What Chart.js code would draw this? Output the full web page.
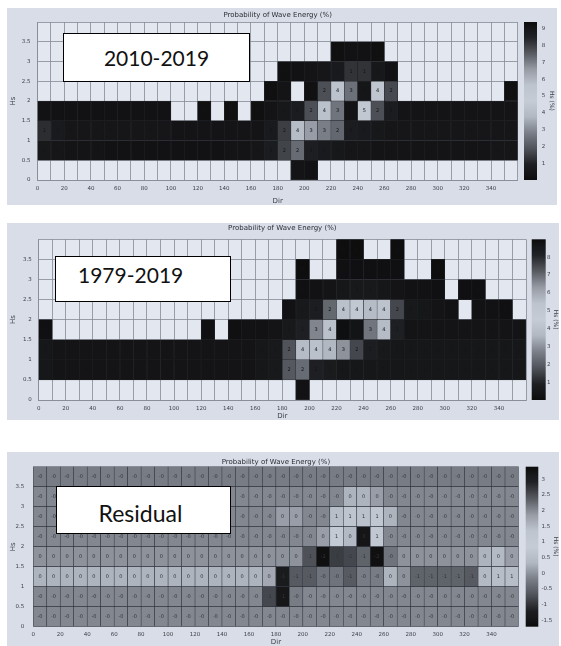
<!DOCTYPE html>
<html>
<head>
<meta charset="utf-8">
<script src="https://cdn.jsdelivr.net/npm/chart.js@4.4.1/dist/chart.umd.min.js"></script>
<style>
  html, body { margin: 0; padding: 0; background: #ffffff; }
  body { width: 561px; height: 646px; position: relative; overflow: hidden; }
  .panel { position: absolute; left: 7px; width: 550px; }
  .panel canvas { display: block; }
  .tag {
    position: absolute; background: #ffffff; border: 1.4px solid #000000;
    box-sizing: border-box; font-family: Lato, "Open Sans", sans-serif;
    font-size: 21px; color: #111111; display: flex; align-items: center;
    white-space: nowrap;
  }
</style>
</head>
<body>
<div class="panel" style="top:8px;height:197px"><canvas id="wave2010" width="550" height="197"></canvas></div>
<div class="panel" style="top:223px;height:197px"><canvas id="wave1979" width="552" height="197"></canvas></div>
<div class="panel" style="top:452px;height:194px"><canvas id="waveResidual" width="552" height="194"></canvas></div>

<div class="tag" style="left:63px;top:33px;width:187px;height:49px;justify-content:center;">2010-2019</div>
<div class="tag" style="left:55px;top:256px;width:176px;height:46px;padding-left:22px;padding-bottom:10px;">1979-2019</div>
<div class="tag" style="left:56px;top:486px;width:175px;height:48px;justify-content:center;padding-right:6px;padding-top:6px;font-size:23px;">Residual</div>

<script>
// Direction bins (degrees, lower edge of each 10° bin) and wave-height bins (m, lower edge of each 0.5 m bin)
const dirBins = [0, 10, 20, 30, 40, 50, 60, 70, 80, 90, 100, 110, 120, 130, 140, 150, 160, 170,
                 180, 190, 200, 210, 220, 230, 240, 250, 260, 270, 280, 290, 300, 310, 320, 330, 340, 350];
const hsBins = [0, 0.5, 1, 1.5, 2, 2.5, 3, 3.5];

// Axis tick labels
const dirTickLabels = [0, 20, 40, 60, 80, 100, 120, 140, 160, 180, 200, 220, 240, 260, 280, 300, 320, 340];
const hsTickLabels = ['0', '0.5', '1', '1.5', '2', '2.5', '3', '3.5'];

const n = null;

// Probability of wave energy (%), 2010-2019; one row per Hs bin, bottom row first
const energy2010 = [
  [n,n,n,n,n,n,n,n,n,n, n,n,n,n,n,n,n,n,n,0.4, 0.3,n,n,n,n,n,n,n,n,n, n,n,n,n,n,n],
  [0.6,0.5,0.4,0.4,0.4,0.3,0.3,0.3,0.3,0.3, 0.3,0.3,0.3,0.3,0.4,0.4,0.5,0.8,1.6,2.4, 0.9,0.7,0.6,0.5,0.5,0.4,0.4,0.4,0.4,0.4, 0.4,0.4,0.4,0.4,0.5,0.5],
  [1.2,0.7,0.5,0.5,0.5,0.5,0.5,0.5,0.5,0.5, 0.4,0.4,0.4,0.4,0.4,0.4,0.4,0.7,1.5,4.0, 3.3,2.8,2.3,0.8,0.7,0.6,0.5,0.5,0.5,0.5, 0.5,0.5,0.5,0.5,0.5,0.5],
  [0.3,0.3,0.3,0.3,0.3,0.3,0.3,0.3,0.3,0.3, n,n,0.2,n,0.2,n,0.2,0.4,0.6,0.8, 1.8,4.2,2.6,9.1,4.5,1.8,0.8,0.4,0.4,0.4, 0.4,0.4,0.4,0.4,0.4,0.4],
  [n,n,n,n,n,n,n,n,n,n, n,n,n,n,n,n,n,0.2,0.4,n, 9.2,1.8,4.3,2.5,9.0,4.4,1.7,n,n,n, n,n,n,n,n,0.2],
  [n,n,n,n,n,n,n,n,n,n, n,n,n,n,n,n,n,n,0.2,0.3, 0.4,0.5,0.7,1.3,1.3,0.6,0.3,n,n,n, n,n,n,n,n,n],
  [n,n,n,n,n,n,n,n,n,n, n,n,n,n,n,n,n,n,n,n, n,n,0.2,0.3,0.3,0.2,n,n,n,n, n,n,n,n,n,n],
  [n,n,n,n,n,n,n,n,n,n, n,n,n,n,n,n,n,n,n,n, n,n,n,n,n,n,n,n,n,n, n,n,n,n,n,n]
];

// Probability of wave energy (%), 1979-2019
const energy1979 = [
  [n,n,n,n,n,n,n,n,n,n, n,n,n,n,n,n,n,n,n,0.3, n,n,n,n,n,n,n,n,n,n, n,n,n,n,n,n],
  [0.5,0.4,0.4,0.4,0.4,0.4,0.4,0.4,0.4,0.4, 0.4,0.4,0.4,0.4,0.4,0.4,0.5,0.6,1.9,2.3, 0.9,0.7,0.5,0.5,0.5,0.5,0.5,0.5,0.5,0.5, 0.5,0.5,0.5,0.5,0.5,0.5],
  [0.5,0.4,0.4,0.4,0.4,0.4,0.4,0.4,0.4,0.4, 0.4,0.4,0.4,0.4,0.4,0.4,0.5,0.6,1.8,3.8, 4.0,3.6,3.0,1.6,0.8,0.6,0.5,0.5,0.5,0.5, 0.5,0.5,0.5,0.5,0.5,0.5],
  [0.2,n,n,n,n,n,n,n,n,n, n,n,0.2,n,0.2,0.3,0.3,0.4,0.6,0.9, 2.8,4.0,8.9,8.7,2.5,3.8,0.9,0.4,0.4,0.4, 0.4,0.4,0.4,0.4,0.4,0.4],
  [n,n,n,n,n,n,n,n,n,n, n,n,n,n,n,n,n,n,0.3,0.6, 0.8,2.2,4.0,4.3,3.8,4.1,1.6,0.6,0.5,0.4, 0.3,n,0.3,0.3,0.2,n],
  [n,n,n,n,n,n,n,n,n,n, n,n,n,n,n,n,n,n,n,0.2, 0.3,0.4,0.5,0.6,0.6,0.5,0.4,0.3,0.3,0.2, n,0.2,0.2,n,n,n],
  [n,n,n,n,n,n,n,n,n,n, n,n,n,n,n,n,n,n,n,0.1, n,n,0.2,0.2,0.2,0.2,0.2,n,n,0.1, n,n,n,n,n,n],
  [n,n,n,n,n,n,n,n,n,n, n,n,n,n,n,n,n,n,n,n, n,n,0.1,0.1,n,n,0.1,n,n,n, n,n,n,n,n,n]
];

// Difference between the two periods (percentage points)
const residual = [
  [-0.1,-0.1,-0.1,-0.1,-0.1,-0.1,-0.1,-0.1,-0.1,-0.1, -0.1,-0.1,-0.1,-0.1,-0.1,-0.1,-0.1,-0.1,-0.1,-0.1, -0.1,-0.1,-0.1,-0.1,-0.1,-0.1,-0.1,-0.1,-0.1,-0.1, -0.1,-0.1,-0.1,-0.1,-0.1,-0.1],
  [-0.1,-0.1,-0.1,-0.1,-0.1,-0.1,-0.1,-0.1,-0.1,-0.1, -0.1,-0.1,-0.1,-0.1,-0.1,-0.1,-0.1,-0.8,-1.4,-0.2, -0.1,-0.1,-0.1,-0.1,-0.1,-0.1,-0.1,-0.1,-0.1,-0.1, -0.1,-0.1,-0.1,-0.1,-0.1,-0.1],
  [0.3,0.3,0.3,0.3,0.3,0.3,0.3,0.3,0.3,0.3, 0.3,0.3,0.3,0.3,0.3,0.3,0.3,0.2,-1.3,-0.6, -0.6,-0.3,-0.3,-0.6,-0.2,-0.2,0.3,0.0,-0.5,-0.5, -0.5,-0.5,-0.6,0.4,0.5,0.5],
  [0.0,0.0,0.0,0.0,0.0,0.0,0.0,0.0,0.0,0.0, 0.0,0.0,0.0,0.0,0.0,0.0,0.0,0.0,0.0,0.0, -0.7,-1.6,-0.9,-0.8,-0.5,-1.6,-0.3,0.0,0.0,0.0, 0.0,0.0,0.0,0.3,0.4,0.1],
  [-0.1,-0.1,-0.1,-0.1,-0.1,-0.1,-0.1,-0.1,-0.1,-0.1, -0.1,-0.1,-0.1,-0.1,-0.1,-0.1,-0.1,-0.1,-0.1,-0.1, -0.1,0.1,1.0,0.4,3.2,1.1,-0.1,-0.1,-0.1,-0.1, -0.1,-0.1,-0.1,-0.1,-0.1,-0.1],
  [-0.1,-0.1,-0.1,-0.1,-0.1,-0.1,-0.1,-0.1,-0.1,-0.1, -0.1,-0.1,-0.1,-0.1,-0.1,-0.1,-0.1,-0.1,0.1,0.1, -0.1,-0.1,0.5,1.3,1.4,1.2,0.3,-0.1,-0.1,-0.1, -0.1,-0.1,-0.1,-0.1,-0.1,-0.1],
  [-0.1,-0.1,-0.1,-0.1,-0.1,-0.1,-0.1,-0.1,-0.1,-0.1, -0.1,-0.1,-0.1,-0.1,-0.1,-0.1,-0.1,-0.1,-0.1,-0.1, -0.1,-0.1,-0.1,0.3,0.3,0.1,-0.1,-0.1,-0.1,-0.1, -0.1,-0.1,-0.1,-0.1,-0.1,-0.1],
  [-0.2,-0.2,-0.2,-0.2,-0.2,-0.2,-0.2,-0.2,-0.2,-0.2, -0.2,-0.2,-0.2,-0.2,-0.2,-0.2,-0.2,-0.2,-0.2,-0.2, -0.2,-0.2,-0.2,-0.2,-0.2,-0.2,-0.2,-0.2,-0.2,-0.2, -0.2,-0.2,-0.2,-0.2,-0.2,-0.2]
];

// Colour-scale limits and colour-bar tick labels
const range2010 = [0, 9.4];
const range1979 = [0, 9.0];
const rangeResidual = [-1.7, 3.4];
const cbTicks2010 = [1, 2, 3, 4, 5, 6, 7, 8, 9];
const cbTicks1979 = [1, 2, 3, 4, 5, 6, 7, 8];
const cbTicksResidual = [-1.5, -1, -0.5, 0, 0.5, 1, 1.5, 2, 2.5, 3];

// Grey diverging ramp: dark at both ends, light in the middle
const RAMP = [
  [0.00, [12, 12, 13]], [0.10, [30, 31, 34]], [0.20, [80, 83, 90]],
  [0.30, [122, 127, 136]], [0.40, [178, 184, 194]], [0.50, [198, 204, 214]],
  [0.60, [190, 196, 206]], [0.70, [150, 155, 164]], [0.80, [88, 91, 97]],
  [0.90, [34, 35, 38]], [1.00, [12, 12, 13]]
];
function rampColor(t) {
  t = Math.max(0, Math.min(1, t));
  for (let i = 1; i < RAMP.length; i++) {
    if (t <= RAMP[i][0]) {
      const [t0, c0] = RAMP[i - 1], [t1, c1] = RAMP[i];
      const f = (t - t0) / (t1 - t0);
      const c = c0.map((v, k) => Math.round(v + (c1[k] - v) * f));
      return `rgb(${c[0]},${c[1]},${c[2]})`;
    }
  }
  return 'rgb(12,12,13)';
}

const TEXT = '#3b3f46';
const GRID = '#858a95';
const FONT = 'DejaVu Sans';

const panelBackground = {
  id: 'panelBackground',
  beforeDraw(chart) {
    const {ctx, chartArea: a, width, height} = chart;
    ctx.save();
    ctx.fillStyle = '#d8dde7';
    ctx.fillRect(0, 0, width, height);
    ctx.fillStyle = '#e3e7ef';
    ctx.fillRect(a.left, a.top, a.right - a.left, a.bottom - a.top);
    ctx.restore();
  }
};

const panelTitle = {
  id: 'panelTitle',
  afterDraw(chart, args, o) {
    const {ctx, chartArea: a} = chart;
    ctx.save();
    ctx.font = `7px "${FONT}"`;
    ctx.fillStyle = '#2a2d33';
    ctx.textAlign = 'center';
    ctx.textBaseline = 'middle';
    ctx.fillText(o.text, (a.left + a.right) / 2, a.top - o.offset);
    ctx.restore();
  }
};

const colorbar = {
  id: 'colorbar',
  afterDraw(chart, args, o) {
    const {ctx, chartArea: a} = chart;
    const s = chart.scales.y2;
    const yTop = s.getPixelForValue(s.max), yBot = s.getPixelForValue(s.min);
    const x0 = a.right + o.gap;
    const g = ctx.createLinearGradient(0, yBot, 0, yTop);
    for (let k = 0; k <= 40; k++) g.addColorStop(k / 40, rampColor(k / 40));
    ctx.save();
    ctx.fillStyle = g;
    ctx.fillRect(x0, yTop, o.width, yBot - yTop);
    ctx.restore();
  }
};

const cellLabels = {
  id: 'cellLabels',
  afterDatasetsDraw(chart, args, o) {
    const {ctx} = chart;
    ctx.save();
    ctx.font = `5px "${FONT}"`;
    ctx.fillStyle = o.color;
    ctx.textAlign = 'center';
    ctx.textBaseline = 'middle';
    chart.data.datasets.forEach((ds, i) => {
      chart.getDatasetMeta(i).data.forEach((el, j) => {
        const {x, y, base} = el.getProps(['x', 'y', 'base'], true);
        ctx.fillText(o.fmt(ds.data[j].v), x, (y + base) / 2);
      });
    });
    ctx.restore();
  }
};

function makePanel(cfg) {
  const canvas = document.getElementById(cfg.id);
  const W = canvas.width, H = canvas.height;
  const {area, range} = cfg;
  const hsEdges = hsBins.concat([hsBins[hsBins.length - 1] + 0.5]);
  const dirEdges = dirBins.concat([dirBins[dirBins.length - 1] + 10]);

  const datasets = cfg.grid.map((row, r) => ({
    data: row
      .map((v, c) => v === null ? null : {x: dirBins[c] + 5, y: [hsBins[r], hsBins[r] + 0.5], v})
      .filter(d => d !== null),
    backgroundColor: ctx => ctx.raw ? rampColor((ctx.raw.v - range[0]) / (range[1] - range[0])) : 'rgba(0,0,0,0)',
    borderColor: cfg.cellBorder,
    borderWidth: cfg.cellBorderWidth,
    borderSkipped: false,
    grouped: false,
    barPercentage: 1,
    categoryPercentage: 1
  }));

  const tickFont = {family: FONT, size: 5.5};
  const titleFont = {family: FONT, size: 7};

  return new Chart(canvas, {
    type: 'bar',
    data: {datasets},
    options: {
      responsive: false,
      animation: false,
      devicePixelRatio: 1,
      events: [],
      layout: {padding: {top: area.top, left: 0, right: 0, bottom: 0}},
      plugins: {
        legend: {display: false},
        tooltip: {enabled: false},
        title: {display: false},
        panelTitle: {text: 'Probability of Wave Energy (%)', offset: cfg.titleOffset},
        colorbar: {gap: cfg.cb.gap, width: cfg.cb.width},
        cellLabels: {fmt: cfg.fmt, color: cfg.labelColor}
      },
      scales: {
        x: {
          type: 'linear', min: 0, max: 360, offset: false,
          afterBuildTicks: s => { s.ticks = dirEdges.map(v => ({value: v})); },
          afterFit: s => { s.height = H - area.bottom; },
          ticks: {
            autoSkip: false, maxRotation: 0, minRotation: 0, padding: 5,
            font: tickFont, color: TEXT,
            callback: v => dirTickLabels.includes(v) ? String(v) : ''
          },
          grid: {color: GRID, lineWidth: 0.8, drawTicks: false, offset: false},
          border: {color: GRID, width: 0.8},
          title: {display: true, text: 'Dir', font: titleFont, color: TEXT, padding: {top: 0, bottom: 0}}
        },
        y: {
          type: 'linear', position: 'left', min: 0, max: 4,
          afterBuildTicks: s => { s.ticks = hsEdges.map(v => ({value: v})); },
          afterFit: s => { s.width = area.left; },
          ticks: {
            padding: cfg.yPad, font: tickFont, color: TEXT,
            callback: v => { const i = hsBins.indexOf(v); return i >= 0 ? hsTickLabels[i] : ''; }
          },
          grid: {color: GRID, lineWidth: 0.8, drawTicks: false},
          border: {color: GRID, width: 0.8},
          title: {display: true, text: 'Hs', font: titleFont, color: TEXT, padding: {top: 2, bottom: 0}}
        },
        y2: {
          type: 'linear', position: 'right', min: range[0], max: range[1],
          afterBuildTicks: s => { s.ticks = cfg.cbTicks.map(v => ({value: v})); },
          afterFit: s => { s.width = W - area.right; },
          ticks: {padding: 1, font: tickFont, color: TEXT, callback: v => String(v)},
          // invisible tick marks push the labels past the colour bar
          grid: {display: true, drawOnChartArea: false, drawTicks: true, tickLength: cfg.cb.labelPad, color: 'rgba(0,0,0,0)'},
          border: {display: false},
          title: {display: true, text: 'Hs (%)', font: {family: FONT, size: 6}, color: TEXT, padding: {top: cfg.cb.titlePad, bottom: 0}}
        }
      }
    },
    plugins: [panelBackground, panelTitle, colorbar, cellLabels]
  });
}

makePanel({
  id: 'wave2010', grid: energy2010, range: range2010, cbTicks: cbTicks2010,
  area: {left: 30.6, right: 510.7, top: 14, bottom: 172},
  cb: {gap: 6.3, width: 13, labelPad: 23, titlePad: 2},
  yPad: 7, titleOffset: 7,
  cellBorder: 'rgba(28,30,34,0.9)', cellBorderWidth: 0.5, labelColor: '#141518',
  fmt: v => String(Math.round(v))
});

makePanel({
  id: 'wave1979', grid: energy1979, range: range1979, cbTicks: cbTicks1979,
  area: {left: 31.7, right: 519, top: 16.3, bottom: 177},
  cb: {gap: 5.7, width: 14, labelPad: 20, titlePad: 0},
  yPad: 7, titleOffset: 11,
  cellBorder: 'rgba(28,30,34,0.9)', cellBorderWidth: 0.5, labelColor: '#141518',
  fmt: v => String(Math.round(v))
});

makePanel({
  id: 'waveResidual', grid: residual, range: rangeResidual, cbTicks: cbTicksResidual,
  area: {left: 26.3, right: 511.5, top: 14.7, bottom: 174.7},
  cb: {gap: 7.2, width: 12.6, labelPad: 22, titlePad: 0},
  yPad: 9, titleOffset: 5,
  cellBorder: 'rgba(50,54,62,0.95)', cellBorderWidth: 0.6, labelColor: '#30343b',
  fmt: v => v.toFixed(0)
});
</script>
</body>
</html>
